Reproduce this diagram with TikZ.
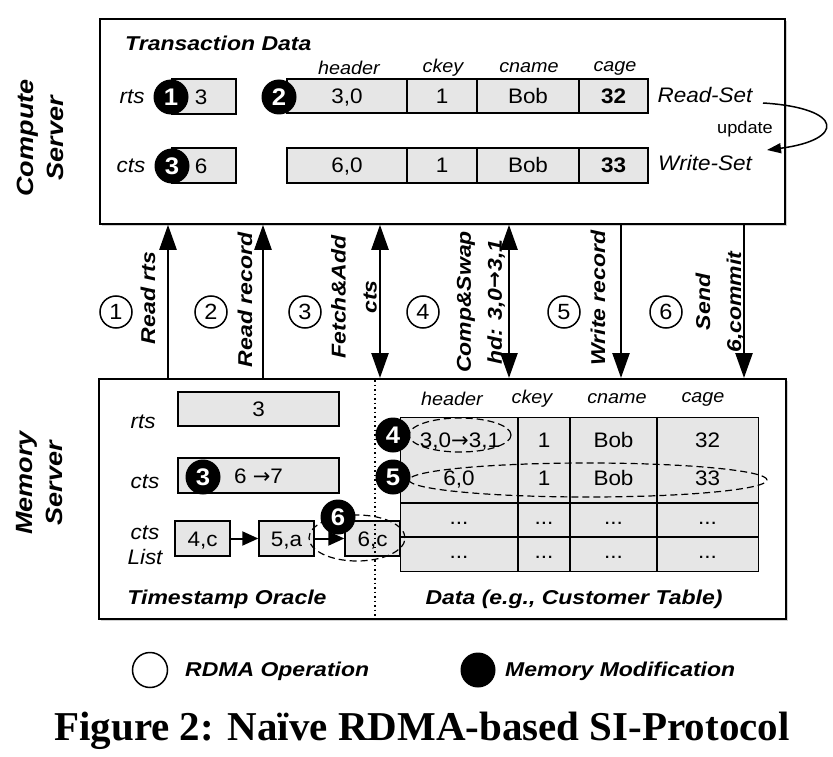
\documentclass[tikz,border=0pt]{standalone}
\usepackage{fontspec}
\setmainfont{Liberation Sans}
\newfontfamily\hv{Liberation Sans}[FakeStretch=1.07]
\newfontfamily\hvw{Liberation Sans}[FakeStretch=1.15]
\newfontfamily\tms{Liberation Serif}
\newfontfamily\dv{DejaVu Sans}
\newcommand\myarr{{\dv →}}
\newcommand\myarrb{{\dv\bfseries →}}
\usetikzlibrary{arrows.meta,shapes.geometric}
\definecolor{cellgray}{HTML}{E6E6E6}
\newcommand\fsz[1]{\fontsize{#1}{#1}\selectfont}
\tikzset{
  frame/.style={draw, line width=1.8pt, fill=white, inner sep=0pt, anchor=north west},
  cell/.style={draw, fill=cellgray, line width=1.4pt, inner sep=0pt, font=\hv\fsz{21}, text height=15pt, text depth=0pt},
  txt/.style={inner sep=0pt, font=\hv\fsz{21}, text height=15pt, text depth=0pt},
  itl/.style={inner sep=0pt, font=\hv\itshape\fsz{21}},
  hdr/.style={inner sep=0pt, font=\hv\itshape\fsz{18.5}},
  bi/.style={inner sep=0pt, font=\hvw\bfseries\itshape\fsz{20}},
  bnum/.style={circle, fill=black, minimum size=35pt, inner sep=0pt, text=white, font=\hv\bfseries\fsz{24}},
  onum/.style={circle, draw, line width=1.5pt, minimum size=32pt, inner sep=0pt, font=\hv\fsz{22}},
  opl/.style={rotate=90, align=center, inner sep=0pt, font=\hvw\bfseries\itshape\fontsize{20}{31}\selectfont},
  arr/.style={line width=2.5pt, -{Triangle[length=25pt,width=17pt]}},
  darr/.style={line width=2.5pt, {Triangle[length=25pt,width=17pt]}-{Triangle[length=25pt,width=17pt]}},
  larr/.style={line width=2pt, -{Triangle[length=16pt,width=14pt]}},
  dsh/.style={ellipse, draw, dash pattern=on 7pt off 4pt, line width=1.2pt, inner sep=0pt},
}
\begin{document}
\begin{tikzpicture}[x=1pt,y=-1pt]
\useasboundingbox (0,0) rectangle (833,757);
% shadows
\fill[black!18] (102,21) rectangle (787,226);
\fill[black!18] (101,381) rectangle (788,621);
% frames
\node[frame, minimum width=685pt, minimum height=205pt] (top) at (99,18) {};
\node[frame, minimum width=687pt, minimum height=240pt] (bot) at (98,378) {};
% side labels
\node[rotate=90, align=center, inner sep=0pt, font=\hvw\bfseries\itshape\fontsize{23.5}{30}\selectfont] (cs) at (40,138) {Compute\\Server};
\node[rotate=90, align=center, inner sep=0pt, font=\hvw\bfseries\itshape\fontsize{23.5}{30}\selectfont] (ms) at (40,483) {Memory\\Server};
% ---------- top box ----------
\node[bi, anchor=west] (td) at (125,43) {Transaction Data};
\node[itl] (rtsl) at (132,97) {rts};
\node[itl] (ctsl) at (131,166) {cts};
\node[cell, minimum width=64pt, minimum height=35pt] (rtsb) at (204,96.5) {};
\node[txt] (rtsv) at (201,97) {3};
\node[cell, minimum width=64pt, minimum height=35pt] (ctsb) at (204,165.5) {};
\node[txt] (ctsv) at (201,166) {6};
\node[hdr] (h1) at (349,68) {header};
\node[hdr] (h2) at (443,68) {ckey};
\node[hdr] (h3) at (529,68) {cname};
\node[hdr] (h4) at (615,68) {cage};
\node[cell, minimum width=120pt, minimum height=34pt] (r11) at (347,96) {3,0};
\node[cell, minimum width=70pt, minimum height=34pt] (r12) at (442,96) {1};
\node[cell, minimum width=102pt, minimum height=34pt] (r13) at (528,96) {Bob};
\node[cell, minimum width=69pt, minimum height=34pt, font=\hv\bfseries\fsz{21}] (r14) at (613.5,96) {32};
\node[cell, minimum width=120pt, minimum height=35pt] (r21) at (347,165.5) {6,0};
\node[cell, minimum width=70pt, minimum height=35pt] (r22) at (442,165.5) {1};
\node[cell, minimum width=102pt, minimum height=35pt] (r23) at (528,165.5) {Bob};
\node[cell, minimum width=69pt, minimum height=35pt, font=\hv\bfseries\fsz{21}] (r24) at (613.5,165.5) {33};
\node[itl] (rs) at (705,95) {Read-Set};
\node[itl] (ws) at (705,163) {Write-Set};
\node[inner sep=0pt, font=\hv\fsz{17}] (upd) at (745,129) {update};
\coordinate (us) at (763,103);
\coordinate (ue) at (767,150);
\draw[line width=1.5pt, -{Triangle[length=14pt,width=10pt]}] (us) .. controls (845,108) and (845,140) .. (ue);
\node[bnum] (b1) at (171,97) {1};
\node[bnum] (b2) at (279,97) {2};
\node[bnum] (b3) at (172,166) {3};
% ---------- arrows between servers ----------
\coordinate (a1) at (168,300);
\coordinate (a2) at (263,300);
\coordinate (a3) at (380,300);
\coordinate (a4) at (509,300);
\coordinate (a5) at (621,300);
\coordinate (a6) at (744,300);
\draw[arr] (a1 |- bot.north) -- (a1 |- top.south);
\draw[arr] (a2 |- bot.north) -- (a2 |- top.south);
\draw[darr] (a3 |- bot.north) -- (a3 |- top.south);
\draw[darr] (a4 |- bot.north) -- (a4 |- top.south);
\draw[arr] (a5 |- top.south) -- (a5 |- bot.north);
\draw[arr] (a6 |- top.south) -- (a6 |- bot.north);
\node[onum] (o1) at (116,312) {1};
\node[onum] (o2) at (211,312) {2};
\node[onum] (o3) at (305,312) {3};
\node[onum] (o4) at (423,312) {4};
\node[onum] (o5) at (564,312) {5};
\node[onum] (o6) at (666,312) {6};
\node[opl] (l1) at (148,298) {Read rts};
\node[opl] (l2) at (245,300) {Read record};
\node[opl] (l3) at (354,297) {Fetch\&Add\\cts};
\node[opl] (l4) at (481,302) {Comp\&Swap\\hd: 3,0\myarrb 3,1};
\node[opl] (l5) at (598,298) {Write record};
\node[opl] (l6) at (720,302) {Send\\6,commit};
% ---------- bottom box ----------
\node[itl] (mrts) at (143,422) {rts};
\node[itl] (mcts) at (145,482) {cts};
\node[itl, align=center, font=\hv\itshape\fontsize{21}{25}\selectfont] (mlist) at (145,545) {cts\\List};
\node[cell, minimum width=161pt, minimum height=34pt] (mrtsb) at (258.5,409) {3};
\node[cell, minimum width=161pt, minimum height=35pt] (mctsb) at (258.5,475.5) {6 \myarr 7};
\node[cell, minimum width=55pt, minimum height=35pt] (c4) at (202.5,538.5) {4,c};
\node[cell, minimum width=55pt, minimum height=35pt] (c5) at (286.5,538.5) {5,a};
\node[cell, minimum width=55pt, minimum height=35pt] (c6) at (372.5,538.5) {6,c};
\draw[larr] (c4.east) -- (c5.west);
\draw[larr] (c5.east) -- (c6.west);
% table
\node[hdr] (th1) at (452,399) {header};
\node[hdr] (th2) at (532,399) {ckey};
\node[hdr] (th3) at (617,399) {cname};
\node[hdr] (th4) at (703,399) {cage};
\node[cell, minimum width=358pt, minimum height=154pt, anchor=north west] (tbl) at (400,417) {};
\draw[line width=1.4pt] (518,417) -- (518,571) (570,417) -- (570,571) (657,417) -- (657,571)
  (400,503) -- (758,503) (400,537) -- (758,537);
\node[txt] (t11) at (460,440) {3,0\myarr 3,1};
\node[txt] (t12) at (544,440) {1};
\node[txt] (t13) at (613.5,440) {Bob};
\node[txt] (t14) at (707.5,440) {32};
\node[txt] (t21) at (459,478) {6,0};
\node[txt] (t22) at (544,478) {1};
\node[txt] (t23) at (613.5,478) {Bob};
\node[txt] (t24) at (707.5,478) {33};
\foreach \cx/\nm in {459/a,544/b,613.5/c,707.5/d}{
  \node[txt] (t3\nm) at (\cx,517) {...};
  \node[txt] (t4\nm) at (\cx,551) {...};
}
\draw[line width=1.5pt, dash pattern=on 1.5pt off 3pt] (375,380) -- (375,617);
% dashed ellipses
\node[dsh, minimum width=102pt, minimum height=34pt] (e4) at (460,435) {};
\node[dsh, minimum width=358pt, minimum height=34pt] (e5) at (588,480) {};
\node[dsh, minimum width=96pt, minimum height=46pt] (e6) at (357,538) {};
\node[bnum] (b4) at (393,435) {4};
\node[bnum] (b5) at (393,477) {5};
\node[bnum] (b6) at (338,517) {6};
\node[bnum] (b3m) at (203,477) {3};
\node[bi] (tso) at (227,599) {Timestamp Oracle};
\node[bi] (dct) at (574,599) {Data (e.g., Customer Table)};
% ---------- legend ----------
\node[onum, minimum size=35pt] (lg1) at (150,670) {};
\node[bi, anchor=west] (lg1t) at (185,671) {RDMA Operation};
\node[bnum] (lg2) at (478,670) {};
\node[bi, anchor=west] (lg2t) at (505,671) {Memory Modification};
\node[inner sep=0pt, anchor=base, font=\tms\bfseries\fontsize{41}{41}\selectfont] (cap) at (422,740) {Figure 2: Naïve RDMA-based SI-Protocol};
\end{tikzpicture}
\end{document}
